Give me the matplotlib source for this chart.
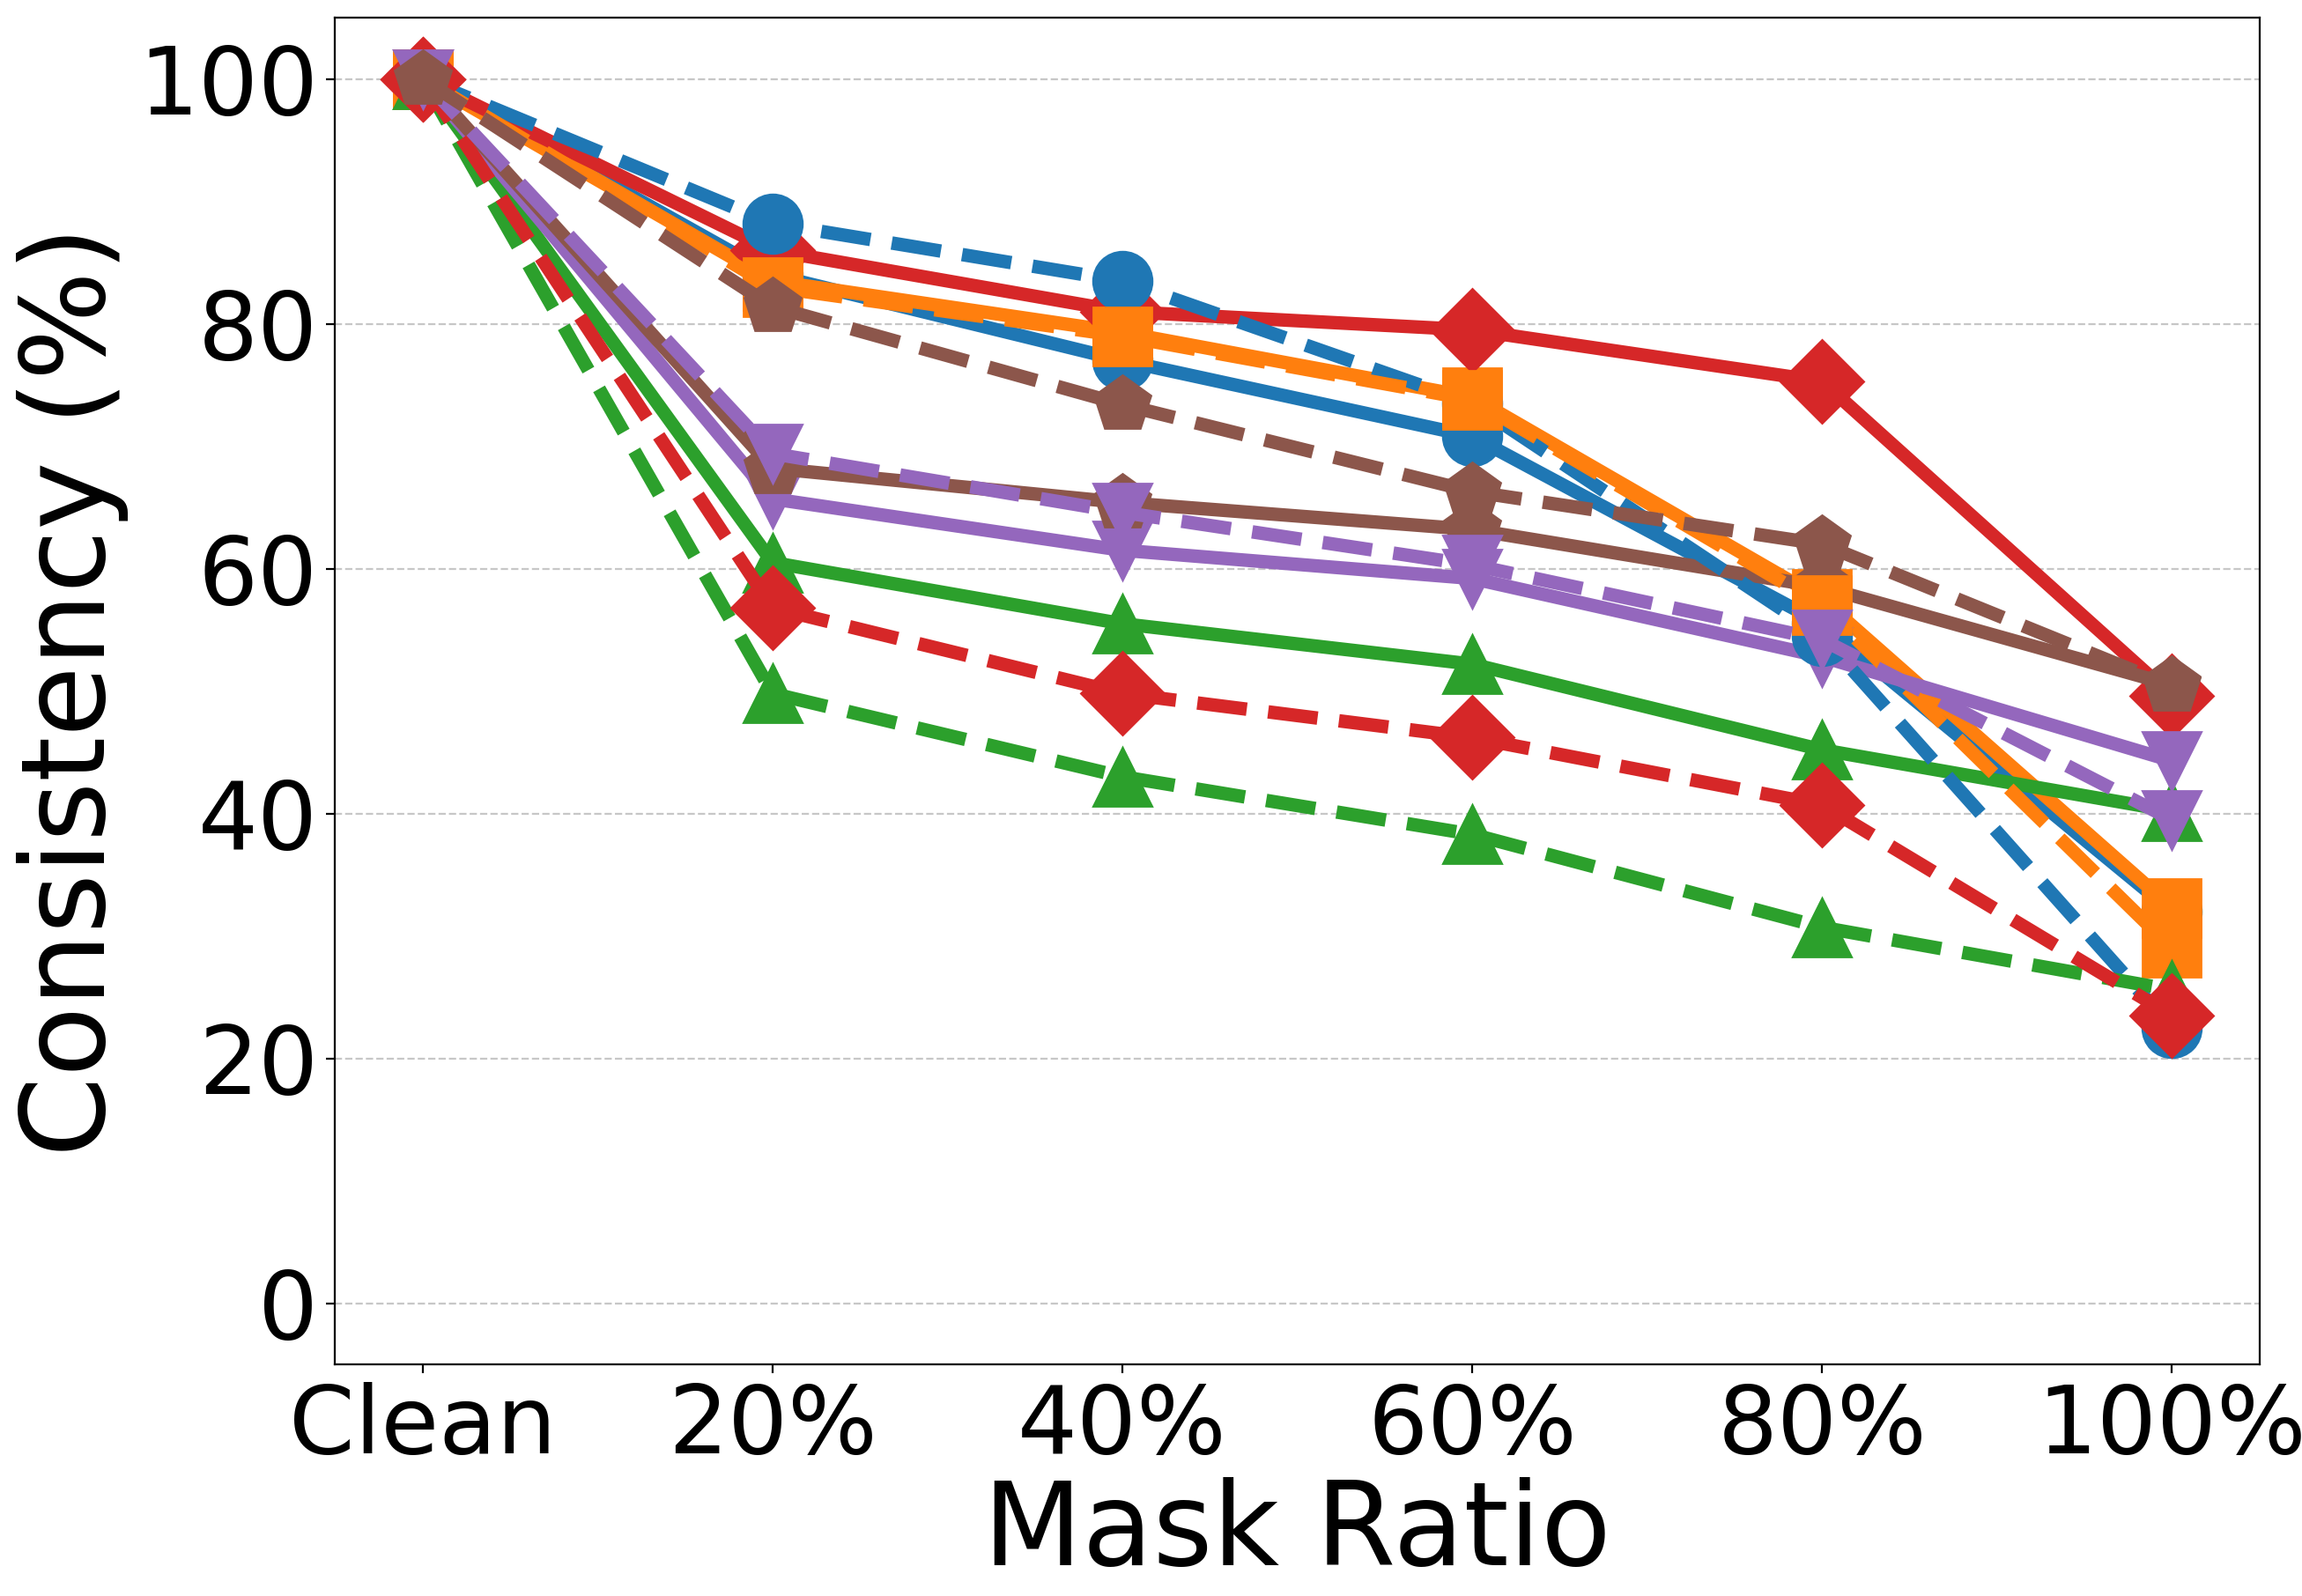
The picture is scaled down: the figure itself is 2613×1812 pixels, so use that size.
import matplotlib
matplotlib.use("Agg")
import matplotlib.pyplot as plt

x_labels = ["Clean", "20%", "40%", "60%", "80%", "100%"]

blue_solid = [100, 84.0, 77.0, 70.8, 55.5, 32.0]
orange_solid = [100, 83.5, 79.3, 74.0, 57.5, 32.3]
green_solid = [100, 60.5, 55.5, 52.2, 45.2, 40.2]
red_solid = [100, 86.0, 81.0, 79.5, 75.3, 49.6]
purple_solid = [100, 65.7, 61.5, 59.2, 52.8, 44.3]
brown_solid = [100, 68.2, 65.4, 63.2, 58.5, 50.5]

blue_dashed = [100, 88.2, 83.5, 73.5, 54.5, 22.5]
orange_dashed = [100, 83.0, 79.0, 73.8, 57.0, 29.0]
green_dashed = [100, 49.8, 43.0, 38.3, 30.7, 25.6]
red_dashed = [100, 56.8, 49.8, 46.2, 40.7, 23.5]
purple_dashed = [100, 69.4, 64.6, 60.3, 54.2, 39.5]
brown_dashed = [100, 81.4, 73.4, 66.3, 62.0, 50.4]

colors = ["#1f77b4", "#ff7f0e", "#2ca02c", "#d62728", "#9467bd", "#8c564b"]
markers = ["o", "s", "^", "D", "v", "p"]

solid_series = [blue_solid, orange_solid, green_solid, red_solid, purple_solid, brown_solid]
dashed_series = [blue_dashed, orange_dashed, green_dashed, red_dashed, purple_dashed, brown_dashed]

fig = plt.figure(figsize=(2613 / 200, 1812 / 200), dpi=200)
ax = fig.add_axes([0.1456, 0.1451, 0.9815 - 0.1456, 0.9889 - 0.1451])

xs = list(range(len(x_labels)))
for vals, c, m in zip(solid_series, colors, markers):
    ax.plot(xs, vals, color=c, marker=m, linestyle="-", linewidth=5.5, markersize=24)
for vals, c, m in zip(dashed_series, colors, markers):
    ax.plot(xs, vals, color=c, marker=m, linestyle="--", linewidth=5.5, markersize=24)

ax.set_xlim(-0.25, 5.25)
ax.set_ylim(-5, 105)
ax.set_xticks(xs)
ax.set_xticklabels(x_labels)
ax.set_yticks([0, 20, 40, 60, 80, 100])
ax.tick_params(axis="both", labelsize=38.5)
ax.set_xlabel("Mask Ratio", fontsize=47, labelpad=2)
ax.set_ylabel("Consistency (%)", fontsize=47)
ax.grid(axis="y", linestyle="--", alpha=0.7)
ax.set_axisbelow(True)

fig.savefig("out.png", dpi=200)
